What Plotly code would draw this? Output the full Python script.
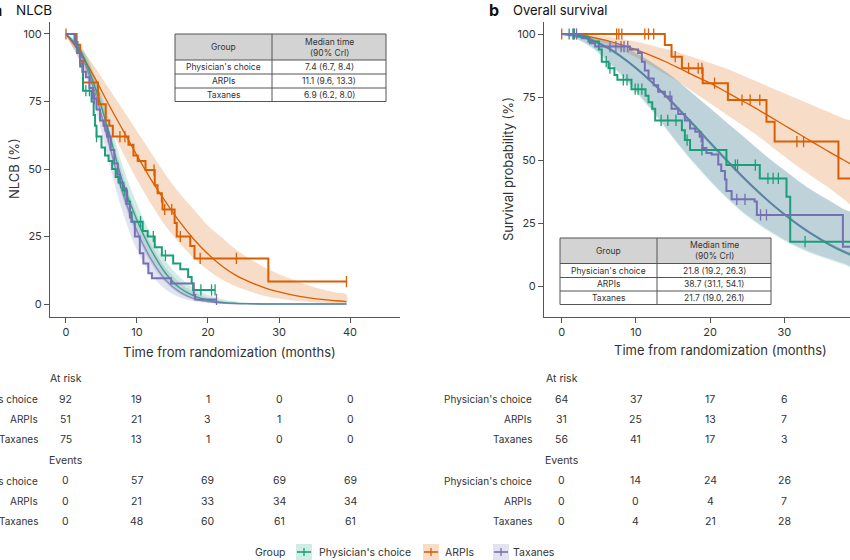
import plotly.graph_objects as go

W, H = 850, 560
FONT = "Inter, 'Noto Sans', sans-serif"
GREEN, ORANGE, PURPLE = "#1b9e77", "#d95f02", "#7570b3"
TXT = "#333333"
AX = "#555555"

groups = ["Physician's choice", "ARPIs", "Taxanes"]
colors = [GREEN, ORANGE, PURPLE]
band_rgba = ["rgba(27,158,119,0.2)", "rgba(217,95,2,0.22)", "rgba(117,112,179,0.2)"]

# ---------------- Panel a: NLCB (Kaplan-Meier steps) ----------------
nlcb_pc_t = [0, 1.2, 1.6, 2.0, 2.4, 3.6, 3.9, 4.1, 4.3, 5.0, 5.5, 6.0, 6.5, 7.0, 7.4, 8.0, 8.6, 9.0,
             9.25, 10.8, 11.5, 12.5, 13.5, 15.1, 16.1, 17.2, 17.7, 17.9, 21.0]
nlcb_pc_s = [100, 97, 93, 88, 79, 75, 70, 66, 62, 58, 55, 53, 50, 47, 45, 42, 38, 34,
             30.5, 27, 25, 21, 18, 15, 12.9, 10, 7.7, 5.2, 5.2]
nlcb_pc_cens = [2.8, 3.3, 4.3, 7.7, 8.2, 10.5, 12.3, 14.0, 19.0, 20.5, 21.0]

nlcb_arpi_t = [0, 1.5, 2.0, 2.4, 4.5, 4.6, 5.6, 6.1, 6.6, 8.8, 9.5, 10.1, 11.2, 12.5, 12.9, 13.5,
               13.6, 15.3, 15.6, 17.5, 18.1, 28.5, 39.5]
nlcb_arpi_s = [100, 96, 90, 82, 78, 74, 68, 66, 62, 59, 55, 53, 49.6, 44, 41, 38,
               35, 30, 25, 21.5, 16.9, 8.3, 8.3]
nlcb_arpi_cens = [0, 7.6, 8.3, 12.4, 13.9, 14.9, 16.1, 18.9, 24.0, 39.5]

nlcb_tax_t = [0, 1.3, 1.6, 2.0, 2.3, 2.8, 3.3, 3.8, 4.3, 4.8, 5.3, 5.8, 6.3, 6.8, 7.3, 7.6, 8.1,
              8.5, 9.0, 9.25, 9.7, 10.4, 10.9, 11.6, 12.1, 14.8, 18.0, 18.2, 21.2]
nlcb_tax_s = [100, 97, 93, 89, 86, 84, 80, 76, 72, 68, 66, 62, 57, 52, 48, 44.7, 42.8,
              37, 32, 30.5, 25, 18.8, 15, 11.4, 9.5, 7.6, 3.3, 1.7, 1.7]
nlcb_tax_cens = [1.4, 4.0, 5.5, 6.0, 21.2]

# NLCB model fits
nlcb_fit_t = [0, 2, 4, 6, 8, 10, 12, 14, 16, 18, 20, 22, 24, 26, 28, 30, 32, 34, 36, 38, 39.5]
nlcb_pc_fit = [100, 94, 81, 64, 45, 31, 20, 11.5, 6, 3, 1.4, 0.6, 0.25, 0.1, 0, 0, 0, 0, 0, 0, 0]
nlcb_pc_lo = [100, 92, 77, 58, 39, 25, 15, 8, 3.8, 1.6, 0.6, 0.2, 0.1, 0, 0, 0, 0, 0, 0, 0, 0]
nlcb_pc_hi = [100, 96, 85, 69, 51, 37, 25.5, 16, 10, 6, 3.4, 1.8, 0.9, 0.45, 0.2, 0.1, 0, 0, 0, 0, 0]
nlcb_arpi_fit = [100, 93, 84, 74, 64.5, 55, 46, 38, 30.5, 24, 18.5, 14, 10.5, 8, 6, 4.5, 3.3, 2.4, 1.7, 1.2, 0.9]
nlcb_arpi_lo = [100, 90, 79, 67, 56, 46, 37, 29, 22.5, 17, 12.5, 9, 6.5, 4.5, 3, 2, 1.3, 0.8, 0.5, 0.3, 0.2]
nlcb_arpi_hi = [100, 95, 88, 80, 72, 64, 56, 48, 41, 35, 29, 24.5, 20, 16.5, 13.5, 11, 9, 7, 5.5, 4.3, 3.5]
nlcb_tax_fit = [100, 93, 79, 60, 41, 27, 16.5, 9, 4.5, 2, 0.9, 0.35, 0.12, 0.05, 0, 0, 0, 0, 0, 0, 0]
nlcb_tax_lo = [100, 90, 74, 53, 34, 20, 11, 5.5, 2.5, 1, 0.4, 0.1, 0, 0, 0, 0, 0, 0, 0, 0, 0]
nlcb_tax_hi = [100, 95, 84, 66, 48, 33, 22, 13.5, 8, 4.5, 2.3, 1.1, 0.5, 0.2, 0.1, 0, 0, 0, 0, 0, 0]

# ---------------- Panel b: Overall survival ----------------
os_pc_t = [0, 2.0, 3.6, 5.0, 5.4, 6.3, 7.1, 7.5, 9.4, 11.3, 11.7, 12.2, 12.6, 16.2, 16.6, 17.3,
           22.2, 26.7, 30.3, 30.8, 39.5]
os_pc_s = [100, 99, 97, 93.8, 89, 86.4, 83.7, 81.8, 78.1, 75.5, 72.9, 70.3, 65.7, 61.8, 57.9, 54,
           48, 42.7, 35.4, 17.6, 17.6]
os_pc_cens = [1.0, 1.7, 6.0, 6.5, 8.3, 8.8, 9.9, 10.3, 10.8, 13.4, 14.3, 15.4, 16.9, 18.9, 23.4,
              23.7, 26.1, 27.8, 28.5, 29.2, 32.8]

os_arpi_t = [0, 13.9, 14.8, 16.2, 19.0, 22.4, 27.6, 28.7, 37.3, 39.5]
os_arpi_s = [100, 95.6, 91.0, 86.4, 80.5, 73.8, 65.2, 57.3, 42.7, 42.7]
os_arpi_cens = [0, 1.6, 7.4, 7.7, 8.1, 11.2, 11.7, 12.4, 15.3, 17.1, 18.4, 18.9, 20.6, 24.3, 25.4,
                26.7, 31.7, 32.6]

os_tax_t = [0, 2.7, 3.8, 4.5, 9.2, 10.3, 10.8, 11.2, 11.7, 12.4, 13.0, 13.9, 14.8, 15.7, 16.6, 17.3,
            18.0, 18.6, 19.0, 19.5, 20.2, 21.1, 21.5, 22.0, 22.2, 22.9, 26.0, 26.3, 37.9, 39.5]
os_tax_s = [100, 98.3, 96.3, 95, 93.8, 92.5, 89, 85.5, 82.3, 79.7, 77.1, 75.2, 70.3, 68.3, 65.7, 62.5,
            61.2, 59.2, 54.8, 52.8, 52.2, 48.2, 45.6, 42.3, 37.7, 34.4, 33.5, 28.2, 15.6, 15.6]
os_tax_cens = [1.5, 2.0, 6.5, 7.3, 8.0, 8.4, 8.9, 14.6, 18.8, 23.6, 24.7, 26.8, 27.6]

os_fit_t = [0, 2, 4, 6, 8, 10, 12, 14, 16, 18, 20, 22, 24, 26, 28, 30, 32, 34, 36, 38, 40]
os_pc_fit = [100, 99.3, 97.6, 94.8, 91, 86.5, 81.3, 75.6, 69.6, 63.4, 57, 50.7, 44.6, 38.8, 33.4, 28.5, 24, 20, 16.5, 13.5, 11]
os_pc_lo = [100, 98, 94.5, 89.5, 83.5, 77, 70, 62.5, 55, 48, 41.5, 35.5, 30, 25.5, 21.5, 18, 15, 12.5, 10.5, 8.5, 7]
os_pc_hi = [100, 99.8, 99, 97.5, 95.5, 92.5, 89, 85, 80.5, 75.5, 70.5, 65.5, 60.5, 55.5, 50.5, 46, 41.5, 37.5, 34, 30.5, 27.5]
os_arpi_fit = [100, 99.6, 98.8, 97.5, 95.8, 93.8, 91.5, 89, 86.2, 83.3, 80.5, 77.3, 74, 70.8, 67.3, 63.8, 60.3, 56.8, 53.3, 50, 46.6]
os_arpi_lo = [100, 99.2, 97.8, 96, 93.5, 90.8, 87.5, 84, 80.5, 76.5, 72.5, 68.5, 64.5, 60.5, 56, 51.5, 47, 43, 39, 34.5, 30.5]
os_arpi_hi = [100, 100, 99.5, 99, 98, 97, 95.5, 94, 92.5, 90.5, 88.5, 86.5, 84, 81.5, 79, 76.5, 74, 71.5, 69, 66.5, 64]
os_tax_fit = [100, 99.4, 97.8, 95, 91.2, 86.5, 81.2, 75.4, 69.3, 63, 56.7, 50.4, 44.3, 38.6, 33.3, 28.5, 24.1, 20.2, 16.8, 13.9, 11.4]
os_tax_lo = [100, 98.2, 95, 90, 84, 77.5, 70.5, 63, 55.5, 48.5, 42, 36, 30.5, 26, 22, 18.5, 15.5, 13, 11, 9, 7.5]
os_tax_hi = [100, 99.8, 99, 97.6, 95.6, 92.6, 89, 85, 80.5, 75.5, 70.5, 65.5, 60.5, 55.5, 50.5, 46, 41.5, 37.5, 34, 30.5, 27.5]

# ---------------- Inset tables ----------------
nlcb_median = ["7.4 (6.7, 8.4)", "11.1 (9.6, 13.3)", "6.9 (6.2, 8.0)"]
os_median = ["21.8 (19.2, 26.3)", "38.7 (31.1, 54.1)", "21.7 (19.0, 26.1)"]

# ---------------- Risk tables ----------------
nlcb_risk_times = [0, 10, 20, 30, 40]
nlcb_at_risk = [[92, 19, 1, 0, 0], [51, 21, 3, 1, 0], [75, 13, 1, 0, 0]]
nlcb_events = [[0, 57, 69, 69, 69], [0, 21, 33, 34, 34], [0, 48, 60, 61, 61]]
os_risk_times = [0, 10, 20, 30]
os_at_risk = [[64, 37, 17, 6], [31, 25, 13, 7], [56, 41, 17, 3]]
os_events = [[0, 14, 24, 26], [0, 0, 4, 7], [0, 4, 21, 28]]

x_ticks = [0, 10, 20, 30, 40]
y_ticks = [0, 25, 50, 75, 100]


def px(x):
    return x / W


def py(y):
    return 1 - y / H


def step_at(ts, ss, c):
    v = ss[0]
    for t, s in zip(ts, ss):
        if t <= c:
            v = s
    return v


fig = go.Figure()

panels = [
    ("x", "y", 1.4,
     [(nlcb_pc_t, nlcb_pc_s, nlcb_pc_cens), (nlcb_arpi_t, nlcb_arpi_s, nlcb_arpi_cens),
      (nlcb_tax_t, nlcb_tax_s, nlcb_tax_cens)],
     nlcb_fit_t,
     [(nlcb_pc_fit, nlcb_pc_lo, nlcb_pc_hi), (nlcb_arpi_fit, nlcb_arpi_lo, nlcb_arpi_hi),
      (nlcb_tax_fit, nlcb_tax_lo, nlcb_tax_hi)]),
    ("x2", "y2", 1.8,
     [(os_pc_t, os_pc_s, os_pc_cens), (os_arpi_t, os_arpi_s, os_arpi_cens),
      (os_tax_t, os_tax_s, os_tax_cens)],
     os_fit_t,
     [(os_pc_fit, os_pc_lo, os_pc_hi), (os_arpi_fit, os_arpi_lo, os_arpi_hi),
      (os_tax_fit, os_tax_lo, os_tax_hi)]),
]

fit_opac = [0.85, 1.0, 0.7]
for xa, ya, fw, km, ft, fits in panels:
    # credible bands
    for order in [1, 0, 2]:
        f, lo, hi = fits[order]
        fig.add_trace(go.Scatter(
            x=list(ft) + list(ft)[::-1], y=list(hi) + list(lo)[::-1],
            mode="lines", fill="toself", fillcolor=band_rgba[order],
            line=dict(width=0, shape="spline"), hoverinfo="skip", showlegend=False,
            xaxis=xa, yaxis=ya))
    # fitted curves
    for order in [1, 0, 2]:
        f, lo, hi = fits[order]
        fig.add_trace(go.Scatter(
            x=ft, y=f, mode="lines", opacity=fit_opac[order],
            line=dict(color=colors[order], width=fw if order != 1 else 1.3, shape="spline"),
            hoverinfo="skip", showlegend=False, xaxis=xa, yaxis=ya))
    # KM steps and censor marks
    for order in [1, 0, 2]:
        ts, ss, cens = km[order]
        fig.add_trace(go.Scatter(
            x=ts, y=ss, mode="lines", line=dict(color=colors[order], width=2, shape="hv"),
            name=groups[order], showlegend=False, xaxis=xa, yaxis=ya))
        fig.add_trace(go.Scatter(
            x=cens, y=[step_at(ts, ss, c) for c in cens], mode="markers",
            marker=dict(symbol="line-ns", size=8, line=dict(width=1.3, color=colors[order])),
            showlegend=False, hoverinfo="skip", xaxis=xa, yaxis=ya))

axis_common = dict(showgrid=False, zeroline=False, showline=True, linecolor=AX, linewidth=1,
                   ticks="outside", ticklen=5, tickcolor=AX, tickwidth=1,
                   tickfont=dict(family=FONT, size=11, color=TXT))
yd = [py(317), py(22)]
fig.update_layout(
    width=W, height=H, margin=dict(l=0, r=0, t=0, b=0),
    paper_bgcolor="white", plot_bgcolor="white", showlegend=False,
    font=dict(family=FONT, color=TXT),
    xaxis=dict(domain=[px(50), px(400)], range=[-2.25, 47.04], tickvals=x_ticks, anchor="y",
               **axis_common),
    yaxis=dict(domain=yd, range=[-4.81, 104.44], tickvals=y_ticks, anchor="x", **axis_common),
    xaxis2=dict(domain=[px(544), 1.0], range=[-2.39, 38.86], tickvals=x_ticks, anchor="y2",
                **axis_common),
    yaxis2=dict(domain=yd, range=[-12.3, 104.76], tickvals=y_ticks, anchor="x2", **axis_common),
)

ann = []
shapes = []


def text(x, y, s, size=11, anchor="center", bold=False, color=TXT, xref="paper", angle=0):
    ann.append(dict(x=x, y=y, xref=xref, yref="paper", text=("<b>%s</b>" % s) if bold else s,
                    showarrow=False, xanchor=anchor, yanchor="middle", textangle=angle,
                    font=dict(family=FONT, size=size, color=color)))


# panel titles
text(px(4), py(10), "a", size=16, anchor="right", bold=True, color="#111")
text(px(14), py(10), "NLCB", size=13.5, anchor="left", color="#111")
text(px(487), py(10), "b", size=16, anchor="left", bold=True, color="#111")
text(px(511), py(10), "Overall survival", size=13, anchor="left", color="#111")

# axis titles
text(px(230), py(352), "Time from randomization (months)", size=13)
text(px(720), py(350), "Time from randomization (months)", size=13)
text(px(14), py(169), "NLCB (%)", size=13, angle=-90)
text(px(508), py(169), "Survival probability (%)", size=13, angle=-90)


# inset tables
def table(x0, x1, xd, y0, yh, rows_y, medians):
    shapes.append(dict(type="rect", xref="paper", yref="paper", x0=px(x0), x1=px(x1),
                       y0=py(yh), y1=py(y0), fillcolor="#d3d3d3", line=dict(width=0), layer="above"))
    shapes.append(dict(type="rect", xref="paper", yref="paper", x0=px(x0), x1=px(x1),
                       y0=py(rows_y[-1]), y1=py(yh), fillcolor="white", line=dict(width=0),
                       layer="above"))
    shapes.append(dict(type="rect", xref="paper", yref="paper", x0=px(x0), x1=px(x1),
                       y0=py(rows_y[-1]), y1=py(y0), line=dict(color="#555", width=1), layer="above"))
    shapes.append(dict(type="line", xref="paper", yref="paper", x0=px(xd), x1=px(xd),
                       y0=py(rows_y[-1]), y1=py(y0), line=dict(color="#555", width=1), layer="above"))
    for yy in [yh] + rows_y[:-1]:
        shapes.append(dict(type="line", xref="paper", yref="paper", x0=px(x0), x1=px(x1),
                           y0=py(yy), y1=py(yy), line=dict(color="#555", width=1), layer="above"))
    text(px((x0 + xd) / 2), py((y0 + yh) / 2), "Group", size=8.5)
    text(px((xd + x1) / 2), py((y0 + yh) / 2), "Median time<br>(90% CrI)", size=8.5)
    prev = yh
    for g, m, yy in zip(groups, medians, rows_y):
        yc = (prev + yy) / 2
        text(px((x0 + xd) / 2), py(yc), g, size=8.5)
        text(px((xd + x1) / 2), py(yc), m, size=8.5)
        prev = yy


table(175, 386, 272, 34, 60, [74, 88, 101.5], nlcb_median)
table(560, 771, 657, 238, 263.5, [277.5, 291, 304.5], os_median)


# risk tables
def risk(xref, label_x, times, at_risk, events):
    text(times[0], py(378), "At risk", size=10.5, xref=xref)
    text(times[0], py(460), "Events", size=10.5, xref=xref)
    for block, ys in [(at_risk, [399, 419, 439]), (events, [481, 501, 521])]:
        for g, row, yy in zip(groups, block, ys):
            text(px(label_x), py(yy), g, size=10, anchor="right")
            for t, v in zip(times, row):
                text(t, py(yy), str(v), size=10.5, xref=xref)


risk("x", 40, nlcb_risk_times, nlcb_at_risk, nlcb_events)
risk("x2", 534, os_risk_times, os_at_risk, os_events)

# legend
text(px(270), py(552), "Group", size=10.5)
legend_items = [(296, 317), (423, 443), (493, 511)]
for (bx, tx), g, c, fill in zip(legend_items, groups, colors, band_rgba):
    shapes.append(dict(type="rect", xref="paper", yref="paper", x0=px(bx), x1=px(bx + 16),
                       y0=py(560), y1=py(544), fillcolor=fill, line=dict(width=0)))
    shapes.append(dict(type="line", xref="paper", yref="paper", x0=px(bx + 1), x1=px(bx + 15),
                       y0=py(552), y1=py(552), line=dict(color=c, width=1.6)))
    shapes.append(dict(type="line", xref="paper", yref="paper", x0=px(bx + 8), x1=px(bx + 8),
                       y0=py(548), y1=py(556), line=dict(color=c, width=1.3)))
    text(px(tx), py(552), g, size=10.5, anchor="left")

fig.update_layout(annotations=ann, shapes=shapes)
fig.write_html("out.html", config={"displayModeBar": False},
               post_script="document.body.style.margin='0px';")
